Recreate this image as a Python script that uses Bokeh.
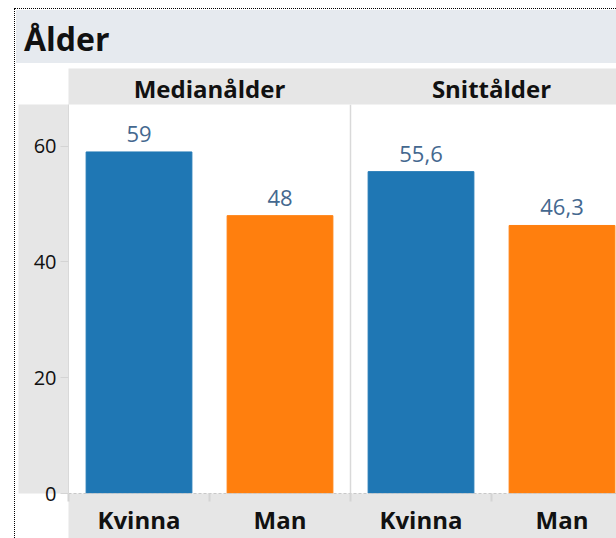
from bokeh.plotting import figure
from bokeh.layouts import column
from bokeh.models import Range1d, FixedTicker, LinearAxis, Span, LabelSet, ColumnDataSource, Div
from bokeh.core.properties import value
from bokeh.embed import file_html
from bokeh.resources import INLINE

# ---- data ----
title_text = "Ålder"
panels = ["Medianålder", "Snittålder"]
genders = ["Kvinna", "Man"]
median_values = [59, 48]
mean_values = [55.6, 46.3]
y_ticks = [0, 20, 40, 60]
gender_colors = ["#1f77b4", "#ff7f0e"]

panel_values = [median_values, mean_values]

def fmt(v):
    return ("%g" % v).replace(".", ",")

xs, tops, cols, labels = [], [], [], []
n_g = len(genders)
for pi, vals in enumerate(panel_values):
    for gi, v in enumerate(vals):
        xs.append(pi * n_g + gi + 0.5)
        tops.append(v)
        cols.append(gender_colors[gi])
        labels.append(fmt(v))
src = ColumnDataSource(dict(x=xs, top=tops, color=cols, label=labels))

FONT = "Open Sans"
GRAY = "#e6e6e6"

# ---- title band ----
title_div = Div(
    text=('<div style="font-family:\'Open Sans\';font-weight:bold;font-size:32px;'
          'color:#111111;padding-left:8px;line-height:58px;height:53px;overflow:hidden;">'
          + title_text + '</div>'),
    width=600, height=53, margin=0, styles={"background-color": "#e6eaef"})

# ---- main chart ----
W, H = 600, 470
left_b, top_b, bottom_b = 52, 35, 42
frame_w = W - left_b
cat_px = 141.0
x_end = frame_w / cat_px
y_end = 67.2

p = figure(width=W, height=H, x_range=Range1d(0, x_end), y_range=Range1d(0, y_end),
           output_backend="svg", toolbar_location=None,
           min_border_left=left_b, min_border_right=0, min_border_top=top_b,
           min_border_bottom=bottom_b, outline_line_color=None)
p.xgrid.grid_line_color = None
p.ygrid.grid_line_color = None

p.vbar(x="x", top="top", width=0.75, color="color", source=src)
p.add_layout(LabelSet(x="x", y="top", text="label", y_offset=10, text_align="center",
                      text_baseline="alphabetic", text_font=value(FONT),
                      text_font_size=value("22px"), text_color=value("#44688f"), source=src))

p.add_layout(Span(location=len(genders), dimension="height", line_color="#d9d9d9", line_width=1.5))

# y axis
ya = p.yaxis[0]
ya.ticker = FixedTicker(ticks=y_ticks)
ya.major_tick_out = 8
ya.major_tick_in = 0
ya.minor_tick_line_color = None
ya.major_tick_line_color = "#d4d4d4"
ya.axis_line_color = "#d9d9d9"
ya.major_label_text_font = FONT
ya.major_label_text_font_size = "20px"
ya.major_label_text_color = "#111111"
ya.major_label_standoff = 4
ya.axis_label = " "
ya.axis_label_text_font_size = "8px"
ya.axis_label_standoff = 0
ya.background_fill_color = GRAY

# bottom axis
xa = p.xaxis[0]
xa.ticker = FixedTicker(ticks=xs, minor_ticks=[i for i in range(len(xs))])
xa.major_label_overrides = {c: g for c, g in zip(xs, genders * len(panels))}
xa.major_tick_line_color = None
xa.major_tick_out = 0
xa.major_tick_in = 0
xa.minor_tick_out = 8
xa.minor_tick_in = 0
xa.minor_tick_line_color = "#d4d4d4"
xa.minor_tick_line_width = 2
xa.axis_line_color = "#c8c8c8"
xa.axis_line_dash = "3 2"
xa.major_label_text_font = FONT
xa.major_label_text_font_style = "bold"
xa.major_label_text_font_size = "24px"
xa.major_label_text_color = "#111111"
xa.major_label_standoff = 1
xa.background_fill_color = GRAY

# header axis
head_ticks = [pi * n_g + n_g / 2 for pi in range(len(panels))]
ha = LinearAxis(ticker=FixedTicker(ticks=head_ticks, minor_ticks=[]),
                major_label_overrides={t: n for t, n in zip(head_ticks, panels)})
ha.major_tick_line_color = None
ha.major_tick_out = 0
ha.major_tick_in = 0
ha.minor_tick_line_color = None
ha.minor_tick_out = 0
ha.axis_line_color = None
ha.major_label_text_font = FONT
ha.major_label_text_font_style = "bold"
ha.major_label_text_font_size = "24px"
ha.major_label_text_color = "#111111"
ha.major_label_standoff = 0
ha.background_fill_color = GRAY
p.add_layout(ha, "above")

layout = column(title_div, p, spacing=5, margin=(10, 0, 0, 16),
                styles={"outline": "1px dotted #000", "outline-offset": "1px"})

open("out.html", "w").write(file_html(layout, INLINE))
